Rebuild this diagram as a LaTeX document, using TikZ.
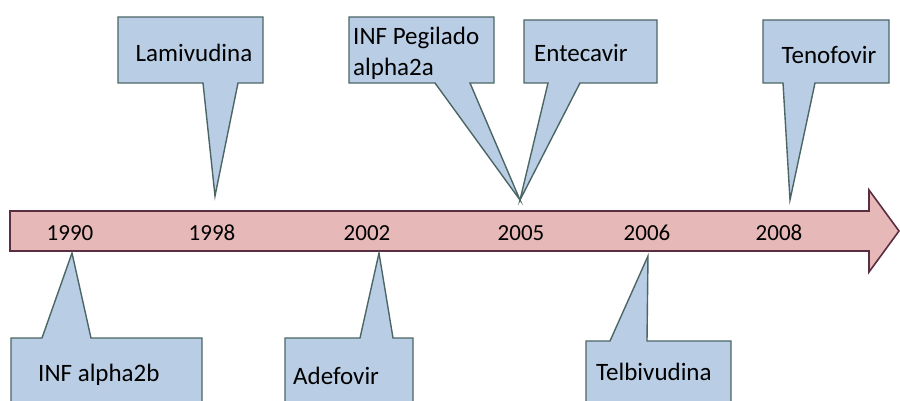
\documentclass[tikz,border=0pt]{standalone}
\usepackage{fontspec}
\setmainfont{Carlito}
\usepackage{tikz}
\usetikzlibrary{positioning}
\definecolor{boxfill}{HTML}{B9CDE5}
\definecolor{boxline}{HTML}{4C6666}
\definecolor{barfill}{HTML}{E6B9B8}
\definecolor{barline}{HTML}{5A2E40}
\tikzset{>=stealth}

\begin{document}
\begin{tikzpicture}[x=1pt, y=-1pt, line join=miter,
    timeline/.style={fill=barfill, draw=barline, line width=1.6pt},
    bubble/.style={fill=boxfill, draw=boxline, line width=1.4pt},
    year/.style={font=\fontsize{23}{27}\selectfont, inner sep=0pt},
    label/.style={font=\fontsize{25}{31}\selectfont, inner sep=0pt, align=left}]
    \clip (0,0) rectangle (900,401);
    % the arrow
    \draw[timeline](10,211)--(869,211)--(869,190)--(899,231)--(869,272)--(869,251)--(10,251)--cycle;
    \foreach \x/\yr in {70/1990, 212/1998, 367/2002, 521/2005, 647/2006, 779/2008}
        \node[year] (y\yr) at (\x,233) {\yr};

    % tips of the callouts
    \coordinate (t1990) at (72,253);
    \coordinate (t1998) at (215,196);
    \coordinate (t2002) at (379,253);
    \coordinate (t2005) at (520,200);
    \coordinate (t2006) at (648,256);
    \coordinate (t2008) at (790,200);

    % callouts above
    \foreach \xa/\ya/\xb/\bl/\br/\t in {118/17/263/203/238/t1998, 349/17/494/435/470/t2005, 524/20/657/548/580/t2005, 763/20/889/783/815/t2008}
        \draw[bubble](\xa,83)--(\bl,83)--(\t)--(\br,83)--(\xb,83)--(\xb,\ya)--(\xa,\ya)--cycle;
    % callouts below
    \foreach \xa/\ya/\xb/\bl/\br/\t in {11/338/202/42/91/t1990, 285/338/413/360/393/t2002, 586/341/731/610/647/t2006}
        \draw[bubble](\xa,420)--(\xa,\ya)--(\bl,\ya)--(\t)--(\br,\ya)--(\xb,\ya)--(\xb,420)--cycle;

    \node[label] (lamivudina) at (194,53) {Lamivudina};
    \node[label, anchor=west] (pegilado) at (353,53) {INF Pegilado\\alpha2a};
    \node[label, anchor=west] (entecavir) at (534,53) {Entecavir};
    \node[label] (tenofovir) at (829,55) {Tenofovir};
    \node[label, anchor=west] (alpha) at (38,375) {INF alpha2b};
    \node[label, anchor=west] (adefovir) at (293,376) {Adefovir};
    \node[label, anchor=west] (telbivudina) at (596,372) {Telbivudina};
\end{tikzpicture}
\end{document}
